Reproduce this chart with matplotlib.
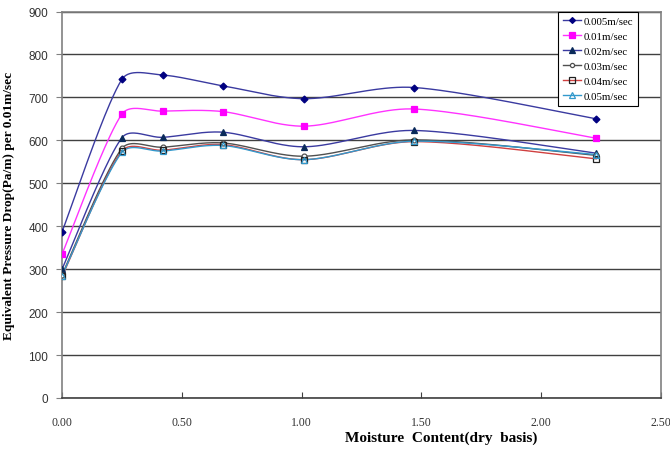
import numpy as np
import matplotlib.pyplot as plt
from matplotlib.ticker import MultipleLocator, FormatStrFormatter

# moisture content (dry basis) and pressure drop for each air velocity
moisture = [0.00, 0.25, 0.42, 0.67, 1.01, 1.47, 2.23]
dp_0005 = [387, 742, 752, 727, 697, 723, 650]
dp_001 = [335, 661, 668, 667, 633, 673, 605]
dp_002 = [300, 606, 607, 619, 585, 623, 570]
dp_003 = [287, 581, 584, 594, 563, 601, 565]
dp_004 = [283, 575, 577, 590, 555, 597, 557]
dp_005 = [285, 572, 575, 588, 555, 598, 567]
labels = ['0.005m/sec', '0.01m/sec', '0.02m/sec', '0.03m/sec', '0.04m/sec', '0.05m/sec']

XMAX, YMAX = 2.5, 900
AX_W, AX_H = 599, 386.5  # axes size in pixels


def smooth(x, y, n=40):
    # Catmull-Rom bezier (chord/6 handles), handles capped at 1/3 of the
    # segment so short segments don't overshoot; done in pixel space
    sc = np.array([AX_W / XMAX, AX_H / YMAX])
    p = np.column_stack([x, y]).astype(float) * sc
    ext = np.vstack([p[0], p, p[-1]])
    tang = (ext[2:] - ext[:-2]) / 6
    tlen = np.linalg.norm(tang, axis=1)
    out = []
    t = np.linspace(0, 1, n)[:, None]
    for i in range(len(p) - 1):
        p1, p2 = p[i], p[i + 1]
        L = np.linalg.norm(p2 - p1) / 3
        c1 = p1 + tang[i] * min(1.0, L / tlen[i])
        c2 = p2 - tang[i + 1] * min(1.0, L / tlen[i + 1])
        seg = ((1 - t) ** 3) * p1 + 3 * ((1 - t) ** 2) * t * c1 + 3 * (1 - t) * t ** 2 * c2 + t ** 3 * p2
        out.append(seg if i == 0 else seg[1:])
    s = np.vstack(out) / sc
    return s[:, 0], s[:, 1]


styles = [
    dict(color='#3a3aa0', marker='D', ms=3.5, mfc='#000080', mec='#000080'),
    dict(color='#ff33ff', marker='s', ms=5, mfc='#ff00ff', mec='#ff00ff'),
    dict(color='#3a3aa0', marker='^', ms=5, mfc='#0a2a5a', mec='#0a2a5a'),
    dict(color='#505050', marker='o', ms=3.5, mfc='white', mec='#505050'),
    dict(color='#d04040', marker='s', ms=5, mfc='none', mec='#202020'),
    dict(color='#3399cc', marker='^', ms=5, mfc='none', mec='#3399cc'),
]

fig = plt.figure(figsize=(6.7, 4.52), dpi=100)
ax = fig.add_axes([62 / 670, 1 - 399 / 452, AX_W / 670, AX_H / 452])

series = [dp_0005, dp_001, dp_002, dp_003, dp_004, dp_005]
for vals, lab, st in zip(series, labels, styles):
    sx, sy = smooth(moisture, vals)
    ax.plot(sx, sy, color=st['color'], lw=1.0, zorder=3)
    ax.plot(moisture, vals, ls='none', marker=st['marker'], ms=st['ms'],
            mfc=st['mfc'], mec=st['mec'], mew=0.9, zorder=4)
    ax.plot([], [], color=st['color'], lw=1.0, marker=st['marker'], ms=st['ms'] - 0.5,
            mfc=st['mfc'], mec=st['mec'], mew=0.9, label=lab)

ax.set_xlim(0, XMAX)
ax.set_ylim(0, YMAX)
ax.xaxis.set_major_locator(MultipleLocator(0.5))
ax.xaxis.set_major_formatter(FormatStrFormatter('%.2f'))
ax.yaxis.set_major_locator(MultipleLocator(100))
ax.grid(axis='y', color='#404040', lw=1.0)
ax.set_axisbelow(True)

for sp in ax.spines.values():
    sp.set_color('#808080')
    sp.set_linewidth(1.2)
ax.spines['bottom'].set_color('#404040')

ax.tick_params(axis='x', direction='in', length=4, color='#404040', pad=13)
ax.tick_params(axis='y', direction='out', length=4, color='#808080', pad=6)
for t in ax.get_xticklabels():
    t.set_fontfamily('Liberation Serif')
    t.set_fontsize(8.5)
    t.set_color('#333333')
for t in ax.get_yticklabels():
    t.set_fontfamily('Liberation Sans')
    t.set_fontsize(8.5)
    t.set_color('#333333')

ax.set_ylabel('Equivalent Pressure Drop(Pa/m) per 0.01m/sec', fontfamily='Liberation Serif',
              fontweight='bold', fontsize=9.6)
ax.yaxis.set_label_coords(-47 / AX_W, 0.5)
fig.text(441 / 670, 1 - 438 / 452, 'Moisture  Content(dry  basis)', fontfamily='Liberation Serif',
         fontweight='bold', fontsize=11, ha='center', va='center')

leg = ax.legend(loc='upper left', bbox_to_anchor=(558 / 670, 1 - 12.5 / 452),
                bbox_transform=fig.transFigure, prop={'family': 'Liberation Serif', 'size': 7.8},
                fancybox=False, framealpha=1, edgecolor='black', borderaxespad=0,
                handlelength=1.7, handletextpad=0.25, labelspacing=0.5, borderpad=0.45)
leg.get_frame().set_linewidth(0.8)

fig.savefig('out.png', dpi=100)
